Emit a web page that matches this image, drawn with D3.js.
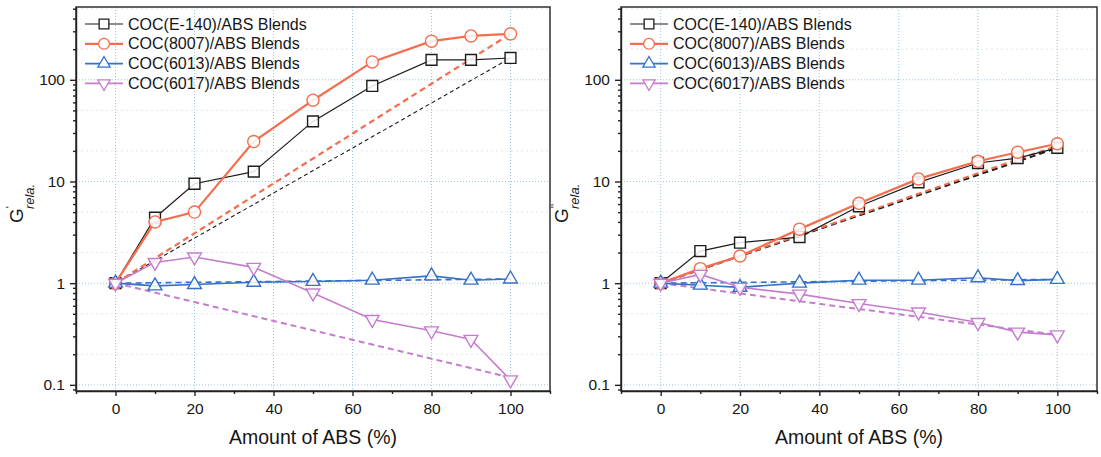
<!DOCTYPE html>
<html>
<head>
<meta charset="utf-8">
<script src="https://cdn.jsdelivr.net/npm/d3@7/dist/d3.min.js"></script>
<style>
  body { margin: 0; background: #fff; }
  svg text { font-family: 'Liberation Sans', Arial, sans-serif; fill: #161616; }
</style>
</head>
<body>
<svg id="chart" width="1101" height="457"></svg>
<script>
// amount of ABS in the blend (%)
const amountABS = [0, 10, 20, 35, 50, 65, 80, 90, 100];
const blendNames = ['COC(E-140)/ABS Blends', 'COC(8007)/ABS Blends', 'COC(6013)/ABS Blends', 'COC(6017)/ABS Blends'];

// G' rela. (left panel)
const storE140 = [1, 4.4, 9.5, 12.5, 39, 87, 157, 157, 164];
const stor8007 = [1, 4.0, 5.0, 24.7, 63, 150, 240, 270, 283];
const stor6013 = [1, 0.94, 0.97, 1.02, 1.04, 1.07, 1.18, 1.07, 1.1];
const stor6017 = [1, 1.6, 1.81, 1.43, 0.80, 0.44, 0.34, 0.28, 0.112];

// G'' rela. (right panel)
const lossE140 = [1, 2.07, 2.5, 2.84, 5.7, 9.8, 15.2, 17, 21.4];
const loss8007 = [1, 1.39, 1.85, 3.4, 6.1, 10.6, 15.8, 19.4, 23.5];
const loss6013 = [1, 0.955, 0.91, 1.0, 1.07, 1.07, 1.13, 1.06, 1.09];
const loss6017 = [1, 1.22, 0.91, 0.78, 0.63, 0.52, 0.41, 0.33, 0.31];

// dashed log-additivity lines: value at 0 % and 100 % ABS
const ruleStart = [1, 1, 1, 1];
const storRuleEnd = [164, 283, 1.1, 0.118];
const lossRuleEnd = [21.4, 22.5, 1.09, 0.31];

const xTicks = [0, 20, 40, 60, 80, 100];
const yTicks = [0.1, 1, 10, 100];

const COLORS = ['#1c1c1c', '#f36d4e', '#3571c9', '#c47dcd'];
const SYMBOLS = [d3.symbolSquare, d3.symbolCircle, d3.symbolTriangle, d3.symbolTriangle];
const SYM_SIZE = [118, 115, 82, 82];
const SYM_ROT = [0, 0, 0, 180];
const LINE_W = [1.2, 2.2, 1.6, 1.6];

const svg = d3.select('#chart');

function drawPanel(box, series, ruleEnd, primes, dashStyle) {
  const x = d3.scaleLinear().domain([-10, 110]).range([box.left, box.right]);
  const y = d3.scaleLog().domain([0.087, 520]).range([box.bottom, box.top]);
  const g = svg.append('g');

  // grid
  const minorGrid = [];
  [0.1, 1, 10, 100].forEach(d => { minorGrid.push(d * 2, d * 5); });
  g.selectAll('.mgrid').data(minorGrid.filter(v => v < 520))
    .enter().append('line')
      .attr('x1', box.left).attr('x2', box.right)
      .attr('y1', d => y(d)).attr('y2', d => y(d))
      .attr('stroke', '#dbe8f1').attr('stroke-width', 1).attr('stroke-dasharray', '2,3');
  g.selectAll('.hgrid').data(yTicks)
    .enter().append('line')
      .attr('x1', box.left).attr('x2', box.right)
      .attr('y1', d => y(d)).attr('y2', d => y(d))
      .attr('stroke', '#9cc5df').attr('stroke-width', 1).attr('stroke-dasharray', '1,2');
  g.selectAll('.vgrid').data(xTicks)
    .enter().append('line')
      .attr('x1', d => x(d)).attr('x2', d => x(d))
      .attr('y1', box.top).attr('y2', box.bottom)
      .attr('stroke', '#9cc5df').attr('stroke-width', 1).attr('stroke-dasharray', '1,2');

  const line = d3.line().x(d => x(d[0])).y(d => y(d[1]));

  // dashed rule lines
  series.forEach((s, i) => {
    const pts = [[amountABS[0], ruleStart[i]], [amountABS[amountABS.length - 1], ruleEnd[i]]];
    g.append('path')
      .attr('d', line(pts))
      .attr('fill', 'none')
      .attr('stroke', COLORS[i])
      .attr('stroke-width', dashStyle[i][0])
      .attr('stroke-dasharray', dashStyle[i][1]);
  });

  // measured series
  series.forEach((s, i) => {
    const pts = amountABS.map((a, k) => [a, s[k]]);
    g.append('path')
      .attr('d', line(pts))
      .attr('fill', 'none')
      .attr('stroke', COLORS[i])
      .attr('stroke-width', LINE_W[i]);
    g.selectAll('.m' + i).data(pts)
      .enter().append('path')
        .attr('d', d3.symbol().type(SYMBOLS[i]).size(SYM_SIZE[i]))
        .attr('transform', d => `translate(${x(d[0])},${y(d[1])}) rotate(${SYM_ROT[i]})`)
        .attr('fill', '#fff')
        .attr('fill-opacity', 0.85)
        .attr('stroke', COLORS[i])
        .attr('stroke-width', 1.4);
  });

  // frame
  g.append('rect')
    .attr('x', box.left).attr('y', box.top)
    .attr('width', box.right - box.left).attr('height', box.bottom - box.top)
    .attr('fill', 'none').attr('stroke', '#222').attr('stroke-width', 1.4);

  // axes
  const xAxis = g.append('g').attr('transform', `translate(0,${box.bottom})`)
    .call(d3.axisBottom(x).tickValues(xTicks).tickSize(5).tickSizeOuter(0).tickPadding(7));
  g.append('g').attr('transform', `translate(0,${box.bottom})`)
    .call(d3.axisBottom(x).tickValues(d3.range(-10, 111, 20)).tickSize(3).tickSizeOuter(0).tickFormat(''))
    .select('.domain').remove();
  xAxis.selectAll('text').attr('font-size', 15.5).attr('fill', '#161616');

  const yAxis = g.append('g').attr('transform', `translate(${box.left},0)`)
    .call(d3.axisLeft(y).tickValues(yTicks).tickFormat(d => String(d)).tickSize(6).tickSizeOuter(0).tickPadding(5));
  const minorY = [];
  [0.01, 0.1, 1, 10, 100].forEach(d => {
    for (let k = 2; k <= 9; k++) minorY.push(d * k);
  });
  g.append('g').attr('transform', `translate(${box.left},0)`)
    .call(d3.axisLeft(y).tickValues(minorY.filter(v => v > 0.087 && v < 520)).tickSize(3).tickSizeOuter(0).tickFormat(''))
    .select('.domain').remove();
  yAxis.selectAll('text').attr('font-size', 15.5).attr('fill', '#161616');
  g.selectAll('.domain, .tick line').attr('stroke', '#222').attr('stroke-width', 1.4);

  // axis titles
  g.append('text')
    .attr('x', (box.left + box.right) / 2).attr('y', 444)
    .attr('text-anchor', 'middle').attr('font-size', 19.5)
    .text('Amount of ABS (%)');

  const lab = g.append('text')
    .attr('transform', `translate(${box.left - 53},223) rotate(-90)`);
  lab.append('tspan').attr('font-size', 19).text('G');
  lab.append('tspan').attr('font-size', 11).attr('dy', -9).text(primes);
  lab.append('tspan').attr('font-size', 13).attr('font-style', 'italic')
    .attr('dx', primes.length > 1 ? -5 : -3).attr('dy', 20).text('rela.');

  // legend
  const lx = box.left + 9;
  blendNames.forEach((name, i) => {
    const ly = box.top + 17 + i * 19.8;
    const row = g.append('g');
    row.append('line')
      .attr('x1', lx).attr('x2', lx + 38).attr('y1', ly).attr('y2', ly)
      .attr('stroke', COLORS[i]).attr('stroke-width', LINE_W[i]);
    row.append('path')
      .attr('d', d3.symbol().type(SYMBOLS[i]).size(SYM_SIZE[i] * 0.8))
      .attr('transform', `translate(${lx + 19},${ly}) rotate(${SYM_ROT[i]})`)
      .attr('fill', '#fff').attr('stroke', COLORS[i]).attr('stroke-width', 1.3);
    row.append('text')
      .attr('x', lx + 43).attr('y', ly + 5.5)
      .attr('font-size', 16)
      .text(name);
  });
}

drawPanel({left: 76, right: 550, top: 7, bottom: 391},
  [storE140, stor8007, stor6013, stor6017], storRuleEnd, "'",
  [[1.1, '4,3'], [2.2, '6,4'], [1.6, '6,4'], [2, '6,4']]);

drawPanel({left: 621, right: 1097, top: 7, bottom: 391},
  [lossE140, loss8007, loss6013, loss6017], lossRuleEnd, "''",
  [[2, '6,4'], [2, '6,4'], [1.6, '6,4'], [2, '6,4']]);
</script>
</body>
</html>
